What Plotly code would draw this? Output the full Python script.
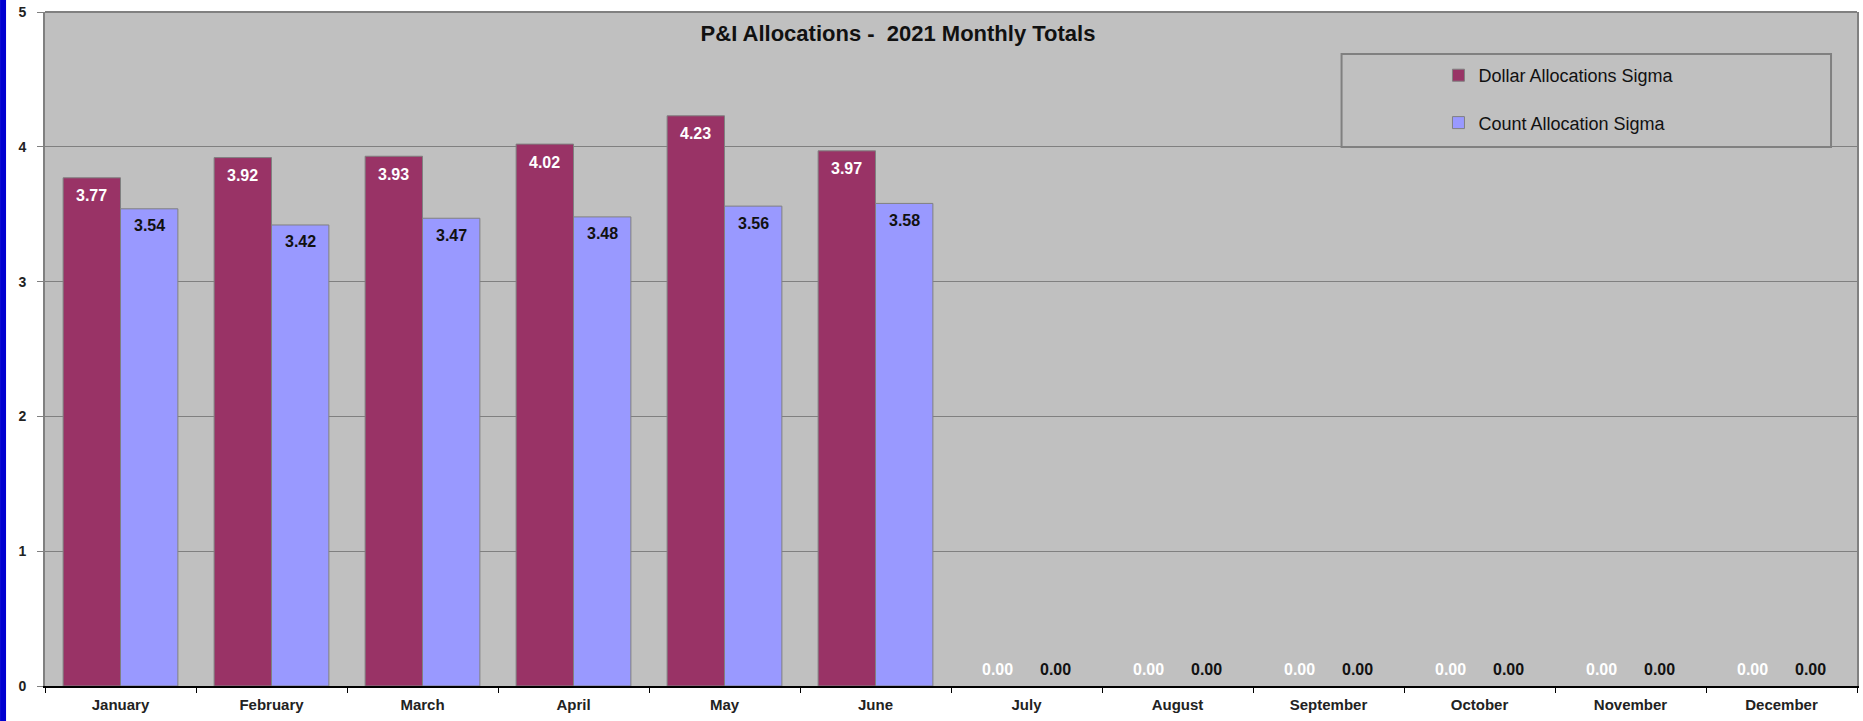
import plotly.graph_objects as go

# ---------------- data ----------------
months = ["January", "February", "March", "April", "May", "June",
          "July", "August", "September", "October", "November", "December"]
dollar_sigma = [3.77, 3.92, 3.93, 4.02, 4.23, 3.97, 0, 0, 0, 0, 0, 0]
count_sigma = [3.54, 3.42, 3.47, 3.48, 3.56, 3.58, 0, 0, 0, 0, 0, 0]
y_ticks = [0, 1, 2, 3, 4, 5]

series_names = ["Dollar Allocations Sigma", "Count Allocation Sigma"]
title_text = "P&I Allocations -  2021 Monthly Totals"

# ---------------- style ----------------
DOLLAR_COLOR = "#993366"
COUNT_COLOR = "#9999FF"
PLOT_BG = "#C0C0C0"
GRID = "#808080"
FONT = "Liberation Sans, Arial, sans-serif"
BARGAP = 0.24

W, H = 1863, 721
ML, MR, MT, MB = 45, 4, 12, 35
PW = W - ML - MR
PH = H - MT - MB


def px_x(px):
    return (px - ML) / PW


def px_y(py):
    return (H - MB - py) / PH


def outline_widths(vals):
    return [1 if v > 0 else 0 for v in vals]


fig = go.Figure()
fig.add_bar(x=months, y=dollar_sigma, name=series_names[0], legendgroup="d",
            marker=dict(color=DOLLAR_COLOR,
                        line=dict(color=GRID, width=outline_widths(dollar_sigma))))
fig.add_bar(x=months, y=count_sigma, name=series_names[1], legendgroup="c",
            marker=dict(color=COUNT_COLOR,
                        line=dict(color=GRID, width=outline_widths(count_sigma))))

half = (1 - BARGAP) / 4
for i, v in enumerate(dollar_sigma):
    fig.add_annotation(x=i - half, y=v, text=f"{v:.2f}", showarrow=False,
                       yshift=-18 if v > 0 else 17,
                       font=dict(family=FONT, size=16, color="white", weight="bold"))
for i, v in enumerate(count_sigma):
    fig.add_annotation(x=i + half, y=v, text=f"{v:.2f}", showarrow=False,
                       yshift=-17 if v > 0 else 17,
                       font=dict(family=FONT, size=16, color="#111111", weight="bold"))

# legend box, top border, left blue stripe
fig.add_shape(type="rect", xref="paper", yref="paper",
              x0=px_x(1343), x1=px_x(1833), y0=px_y(147), y1=px_y(54),
              line=dict(color=GRID, width=2), fillcolor="rgba(0,0,0,0)")
fig.add_shape(type="line", xref="paper", yref="paper", x0=0, x1=1, y0=1, y1=1,
              line=dict(color=GRID, width=2))
fig.add_shape(type="rect", xref="paper", yref="paper",
              x0=px_x(0), x1=px_x(6), y0=px_y(H), y1=px_y(0),
              line=dict(width=0), fillcolor="#0000D0")

fig.update_layout(
    width=W, height=H,
    margin=dict(l=ML, r=MR, t=MT, b=MB, pad=0),
    paper_bgcolor="white", plot_bgcolor=PLOT_BG,
    barmode="group", bargap=BARGAP, bargroupgap=0,
    font=dict(family=FONT, color="#111111"),
    title=dict(text=title_text, x=898 / W, y=1 - 33 / H, xref="container", yref="container",
               xanchor="center", yanchor="middle",
               font=dict(family=FONT, size=22, color="#111111", weight="bold")),
    legend=dict(x=px_x(1440), y=px_y(57), xanchor="left", yanchor="top",
                bgcolor="rgba(0,0,0,0)", borderwidth=0, traceorder="grouped",
                tracegroupgap=21, font=dict(family=FONT, size=18, color="#111111")),
    xaxis=dict(showline=True, linecolor="black", linewidth=2, ticks="outside",
               tickson="boundaries", ticklen=5, tickcolor="black", showgrid=False,
               tickfont=dict(family=FONT, size=15, color="#222222", weight="bold"),
               ticklabelstandoff=4),
    yaxis=dict(range=[0, 5], tickvals=y_ticks, showgrid=True, gridcolor=GRID, gridwidth=1,
               showline=True, linecolor=GRID, linewidth=2, mirror=True,
               ticks="outside", ticklen=6, tickcolor=GRID, zeroline=False,
               tickfont=dict(family=FONT, size=14, color="#222222", weight="bold"),
               ticklabelstandoff=8),
)

fig.write_html("out.html", config={"displayModeBar": False},
               post_script="document.body.style.margin='0';")
